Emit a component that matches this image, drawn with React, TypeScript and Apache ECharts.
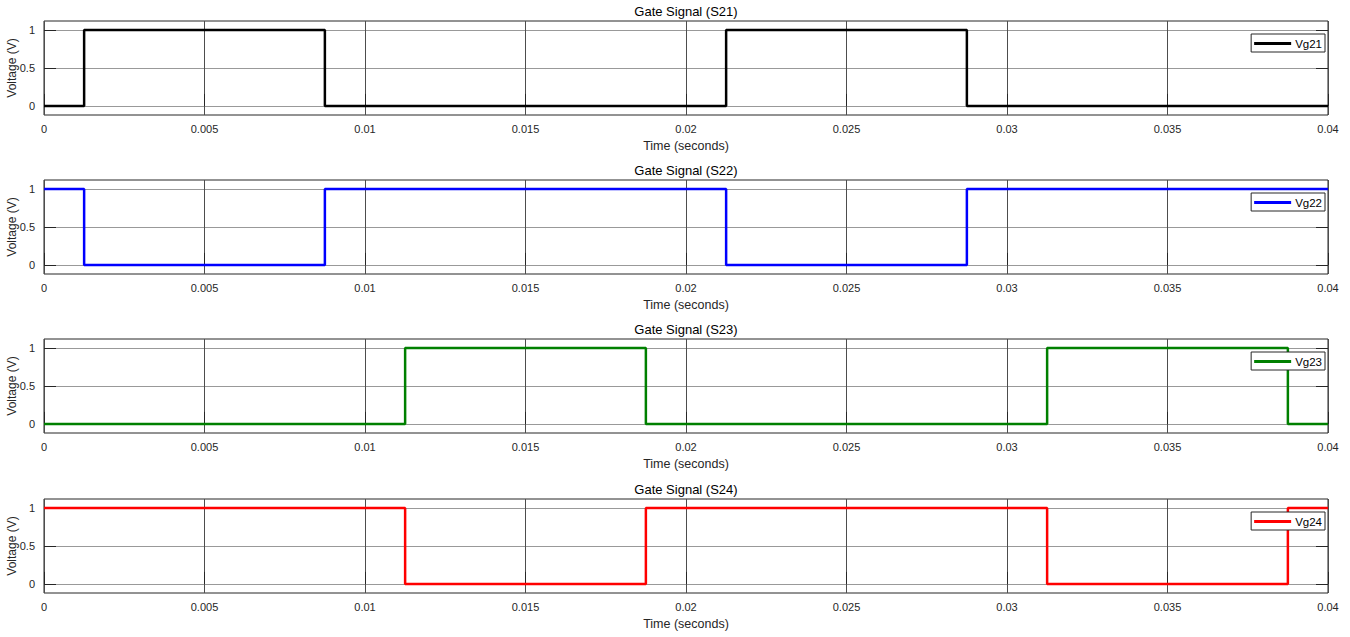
import React, { useEffect, useRef } from "react";
import * as echarts from "echarts";

const titles = ["Gate Signal (S21)", "Gate Signal (S22)", "Gate Signal (S23)", "Gate Signal (S24)"];
const seriesNames = ["Vg21", "Vg22", "Vg23", "Vg24"];
const colors = ["#000000", "#0000ff", "#008000", "#ff0000"];
// switching times (s) and initial levels of each gate signal
const edgesS21 = [0.00125, 0.00875, 0.02125, 0.02875];
const edgesS22 = [0.00125, 0.00875, 0.02125, 0.02875];
const edgesS23 = [0.01125, 0.01875, 0.03125, 0.03875];
const edgesS24 = [0.01125, 0.01875, 0.03125, 0.03875];
const initialLevels = [0, 1, 0, 1];
const edges = [edgesS21, edgesS22, edgesS23, edgesS24];
const xTicks = [0, 0.005, 0.01, 0.015, 0.02, 0.025, 0.03, 0.035, 0.04];
const yTicks = [0, 0.5, 1];
const tEnd = 0.04;

function stepData(start: number, times: number[]) {
  const pts: number[][] = [[0, start]];
  let v = start;
  times.forEach((t) => {
    v = 1 - v;
    pts.push([t, v]);
  });
  pts.push([tEnd, v]);
  return pts;
}

export default function App() {
  const ref = useRef<HTMLDivElement>(null);
  useEffect(() => {
    if (!ref.current) return;
    const chart = echarts.init(ref.current, null, { renderer: "svg" });
    const font = "Liberation Sans, Arial, Helvetica, sans-serif";
    const tops = [21, 180, 339, 499];
    const h = 94;
    const left = 44;
    const right = 22;
    const centerX = left + (1350 - left - right) / 2;
    const grids: any[] = [];
    const xAxes: any[] = [];
    const yAxes: any[] = [];
    const series: any[] = [];
    const titleArr: any[] = [];
    const legends: any[] = [];
    tops.forEach((top, i) => {
      grids.push({
        left,
        right,
        top,
        height: h,
        containLabel: false,
        outerBoundsMode: "none",
        show: true,
        borderColor: "#262626",
        borderWidth: 1,
        backgroundColor: "#fff",
      });
      xAxes.push({
        type: "value",
        gridIndex: i,
        min: 0,
        max: tEnd,
        interval: xTicks[1] - xTicks[0],
        name: "Time (seconds)",
        nameLocation: "middle",
        nameGap: 24,
        nameMoveOverlap: false,
        nameTextStyle: { fontFamily: font, fontSize: 12.5, color: "#262626" },
        axisLine: { show: false },
        axisTick: { show: true, inside: true, length: 12, lineStyle: { color: "#262626" } },
        axisLabel: {
          fontFamily: font,
          fontSize: 11,
          color: "#262626",
          margin: 8,
          formatter: (v: number) => String(parseFloat(v.toFixed(4))),
        },
        splitLine: { show: true, lineStyle: { color: "#4d4d4d", width: 1 } },
      });
      yAxes.push({
        type: "value",
        gridIndex: i,
        min: -0.12,
        max: 1.12,
        name: "Voltage (V)",
        nameLocation: "middle",
        nameGap: 26,
        nameMoveOverlap: false,
        nameTextStyle: { fontFamily: font, fontSize: 12, color: "#262626" },
        axisLine: { show: false },
        axisTick: { show: true, inside: true, length: 12, lineStyle: { color: "#262626" }, customValues: yTicks },
        axisLabel: {
          fontFamily: font,
          fontSize: 11,
          color: "#262626",
          margin: 9,
          customValues: yTicks,
          formatter: (v: number) => String(v),
        },
        splitLine: { show: true, lineStyle: { color: "#999", width: 1 } },
      });
      yAxes.push({
        type: "value",
        gridIndex: i,
        position: "right",
        min: -0.12,
        max: 1.12,
        axisLine: { show: false },
        axisTick: { show: true, inside: true, length: 12, lineStyle: { color: "#262626" }, customValues: yTicks },
        axisLabel: { show: false },
        splitLine: { show: false },
      });
      series.push({
        type: "line",
        name: seriesNames[i],
        xAxisIndex: i,
        yAxisIndex: i * 2,
        step: "end",
        symbol: "none",
        lineStyle: { color: colors[i], width: 2.5 },
        itemStyle: { color: colors[i] },
        data: stepData(initialLevels[i], edges[i]),
      });
      titleArr.push({
        text: titles[i],
        left: centerX,
        top: top - 16,
        textAlign: "center",
        textStyle: { fontFamily: font, fontSize: 13, fontWeight: "normal", color: "#000" },
        padding: 0,
      });
      legends.push({
        data: [{ name: seriesNames[i], icon: "rect" }],
        right: 25,
        top: top + 13,
        orient: "vertical",
        backgroundColor: "#fff",
        borderColor: "#262626",
        borderWidth: 1,
        borderRadius: 0,
        padding: [3, 3, 2, 3],
        itemWidth: 37,
        itemHeight: 3,
        itemGap: 0,
        selectedMode: false,
        textStyle: { fontFamily: font, fontSize: 11.5, color: "#000", lineHeight: 13, padding: [0, 0, 0, -1] },
      });
    });
    chart.setOption({
      animation: false,
      backgroundColor: "#fff",
      title: titleArr,
      legend: legends,
      grid: grids,
      xAxis: xAxes,
      yAxis: yAxes,
      series,
    });
    return () => chart.dispose();
  }, []);
  return (
    <div
      ref={ref}
      style={{ position: "absolute", left: 0, top: 0, width: 1350, height: 637 }}
    />
  );
}
